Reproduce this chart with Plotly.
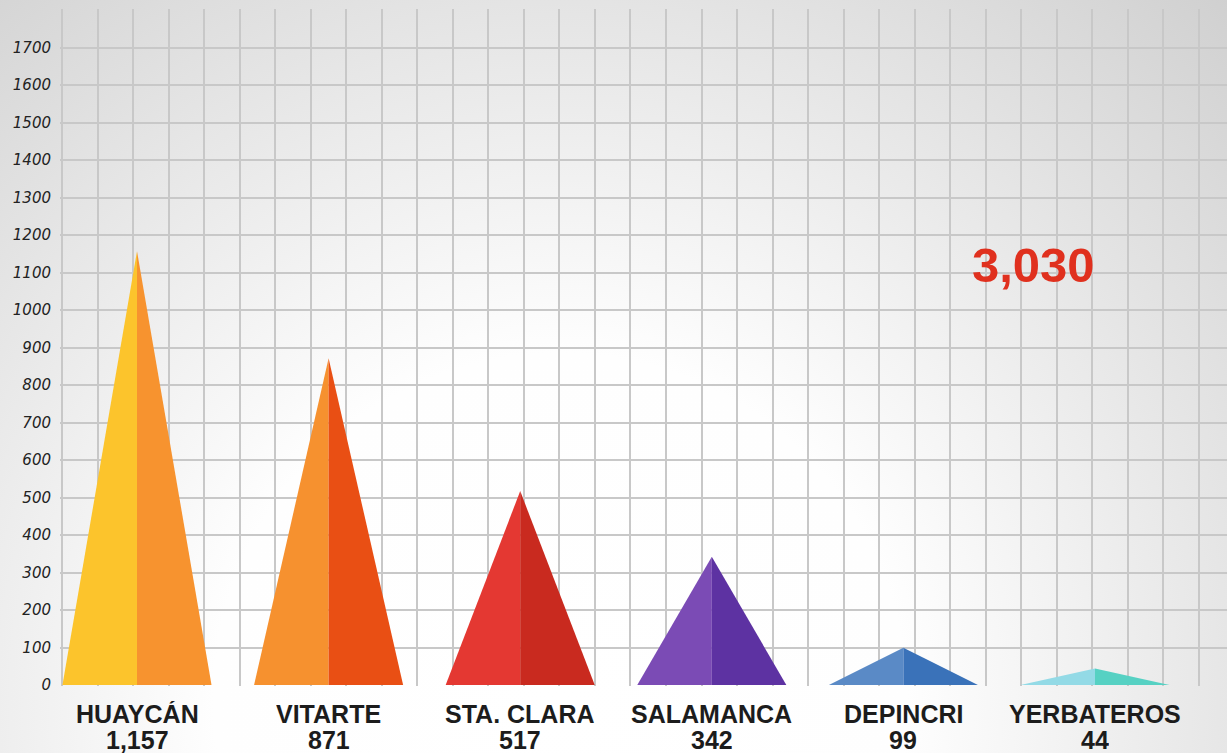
import base64
import plotly.graph_objects as go

# data
categories = ['HUAYCÁN', 'VITARTE', 'STA. CLARA', 'SALAMANCA', 'DEPINCRI', 'YERBATEROS']
values = [1157, 871, 517, 342, 99, 44]
y_tickvals = list(range(0, 1900, 100))
y_ticktext = [str(v) for v in range(0, 1800, 100)] + ['']

left_colors = ['#FCC42C', '#F6912F', '#E43832', '#7B4BB5', '#5A8AC6', '#93DAE6']
right_colors = ['#F7932F', '#E94F14', '#C92A1F', '#5D32A2', '#3A72B9', '#56D1C3']

W, H = 1227, 753
ml, mr, mt, mb = 60, 0, 9, 67
half = 0.389  # half base width of each pyramid, in category units

# x pixel = 137 + 191.6 * x
px0, pxs = 137, 191.6
x_range = [(ml - px0) / pxs, (W - mr - px0) / pxs]
y_range = [-2.67, 1802.67]

fig = go.Figure()

for i, (cat, v) in enumerate(zip(categories, values)):
    fig.add_trace(go.Scatter(
        x=[i - half, i, i, i - half], y=[0, v, 0, 0],
        mode='lines', fill='toself', fillcolor=left_colors[i],
        line=dict(width=0), hoverinfo='skip', showlegend=False))
    fig.add_trace(go.Scatter(
        x=[i, i, i + half, i], y=[0, v, 0, 0],
        mode='lines', fill='toself', fillcolor=right_colors[i],
        line=dict(width=0), name=cat, showlegend=False))

label_font = dict(family='Liberation Sans', size=25, color='#1c1c1c')
annotations = []
for i, (cat, v) in enumerate(zip(categories, values)):
    annotations.append(dict(x=i, y=0, xref='x', yref='paper', yanchor='middle', yshift=-28,
                            height=26, borderpad=0,
                            text=f'<b>{cat}</b>', showarrow=False, font=label_font))
    annotations.append(dict(x=i, y=0, xref='x', yref='paper', yanchor='middle', yshift=-54,
                            height=26, borderpad=0,
                            text=f'<b>{v:,}</b>', showarrow=False, font=label_font))

annotations.append(dict(x=4.68, y=1120, xref='x', yref='y', text=f'<b>{sum(values):,}</b>',
                        showarrow=False, font=dict(family='Liberation Sans', size=49, color='#E0301E')))

svg = (f"<svg xmlns='http://www.w3.org/2000/svg' width='{W}' height='{H}' viewBox='0 0 {W} {H}' preserveAspectRatio='none'>"
       "<defs><radialGradient id='g' cx='560' cy='700' r='1050' gradientUnits='userSpaceOnUse'>"
       "<stop offset='0' stop-color='#ffffff'/><stop offset='0.33' stop-color='#fefefe'/>"
       "<stop offset='1' stop-color='#cacaca'/></radialGradient></defs>"
       f"<rect width='{W}' height='{H}' fill='url(#g)'/></svg>")
src = 'data:image/svg+xml;base64,' + base64.b64encode(svg.encode()).decode()
pw, ph = W - ml - mr, H - mt - mb

fig.update_layout(
    width=W, height=H,
    margin=dict(l=ml, r=mr, t=mt, b=mb),
    paper_bgcolor='white',
    plot_bgcolor='rgba(0,0,0,0)',
    images=[dict(source=src, xref='paper', yref='paper',
                 x=-ml / pw, y=1 + mt / ph, sizex=W / pw, sizey=H / ph,
                 xanchor='left', yanchor='top', sizing='stretch', layer='below')],
    xaxis=dict(range=x_range, showticklabels=False, zeroline=False,
               tick0=(62 - px0) / pxs, dtick=35.53 / pxs,
               showgrid=True, gridcolor='#c8c8c8', gridwidth=1.5),
    yaxis=dict(range=y_range, tickmode='array', tickvals=y_tickvals, ticktext=y_ticktext,
               zeroline=False, showgrid=True, gridcolor='#c8c8c8', gridwidth=1.5,
               ticklabelstandoff=8,
               tickfont=dict(family='DejaVu Sans', size=15, color='#222222', style='italic')),
    annotations=annotations,
)

fig.write_html('out.html', config={'displayModeBar': False},
               post_script="document.body.style.margin='0px';")
